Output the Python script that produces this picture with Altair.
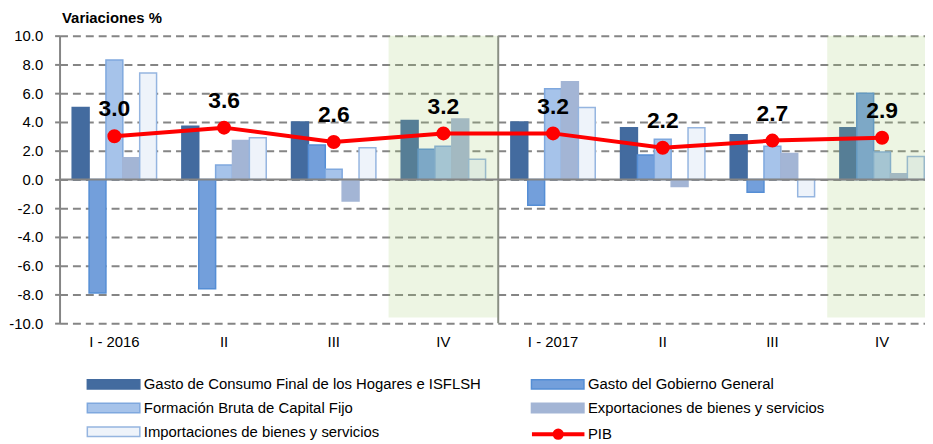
import altair as alt
import pandas as pd

# ---------------- data ----------------
quarters = ["I - 2016", "II", "III", "IV", "I - 2017", "II", "III", "IV"]
series = [
    "Gasto de Consumo Final de los Hogares e ISFLSH",
    "Gasto del Gobierno General",
    "Formación Bruta de Capital Fijo",
    "Exportaciones de bienes y servicios",
    "Importaciones de bienes y servicios",
]
consumo = [5.0, 3.7, 4.0, 4.1, 4.0, 3.6, 3.1, 3.6]
gobierno = [-7.9, -7.6, 2.4, 2.1, -1.8, 1.7, -0.9, 6.0]
fbkf = [8.3, 1.0, 0.7, 2.3, 6.3, 2.8, 2.3, 1.9]
exportaciones = [1.5, 2.7, -1.5, 4.2, 6.8, -0.5, 1.8, 0.4]
importaciones = [7.4, 2.9, 2.2, 1.4, 5.0, 3.6, -1.2, 1.6]
pib = [3.0, 3.6, 2.6, 3.2, 3.2, 2.2, 2.7, 2.9]
pib_name = "PIB"
shaded_quarters = [3, 7]
separator_quarter = 4
y_ticks = [-10, -8, -6, -4, -2, 0, 2, 4, 6, 8, 10]

# ---------------- styles ----------------
fills = ["#436B9F", "#739FDB", "#A6C3EA", "#A3B5D5", "#EEF3FA"]
strokes = ["#436B9F", "#558ED5", "#7FA8DE", "#A3B5D5", "#95B5E0"]
GRID = "#858585"
FONT = "Liberation Sans, Arial, sans-serif"
NARROW = "Liberation Sans Narrow, Arial Narrow, Liberation Sans, sans-serif"

keys = [f"{i}|{q}" for i, q in enumerate(quarters)]

rows = []
for name, vals in zip(series, [consumo, gobierno, fbkf, exportaciones, importaciones]):
    for k, v in zip(keys, vals):
        rows.append({"q": k, "serie": name, "valor": v})
bars_df = pd.DataFrame(rows)
pib_df = pd.DataFrame({"q": keys, "valor": pib, "lname": [pib_name] * len(keys)})
shade_df = pd.DataFrame({"q": [keys[i] for i in shaded_quarters], "valor": [10] * 2, "bottom": [-9.6] * 2})
sep_df = pd.DataFrame({"q": [keys[separator_quarter]], "valor": [10], "bottom": [-10]})
zero_df = pd.DataFrame({"valor": [0]})

# the last category runs past the right edge of the picture, as in the original
x_scale = alt.Scale(domain=keys, paddingInner=0, paddingOuter=0, range=[0, 885])
y_scale = alt.Scale(domain=[-10, 10], nice=False, zero=False)

x_axis = alt.Axis(labelExpr="split(datum.value, '|')[1]", ticks=False, domain=False,
                  labelAngle=0, title=None, labelPadding=12, labelFontSize=15,
                  labelColor="black", labelFont=FONT, grid=False)
y_axis = alt.Axis(values=y_ticks, labelOverlap=False, labelSeparation=0,
                  labelExpr="(datum.value < 0 ? '-' : '') + format(abs(datum.value), '.1f')",
                  grid=True, gridDash=[8, 5], gridColor=GRID, gridWidth=2,
                  domainColor=GRID, domainWidth=2, tickColor=GRID, tickSize=5, tickWidth=2,
                  labelPadding=12, labelFontSize=15, labelColor="black", labelFont=FONT,
                  title="Variaciones %", titleAngle=0, titleX=2, titleY=-13,
                  titleAlign="left", titleBaseline="alphabetic", titleFontSize=15,
                  titleFontWeight="bold", titleFont=FONT, titleColor="black")

X = alt.X("q:N", sort=keys, scale=x_scale, axis=x_axis)
Y = alt.Y("valor:Q", scale=y_scale, axis=y_axis)

rect_path = "M-2.5,-0.45H2.5V0.45H-2.5Z"
pib_path = ("M-2.5,0H2.5"
            "M-0.35,0A0.35,0.35 0 1,1 0.35,0A0.35,0.35 0 1,1 -0.35,0"
            "M-0.2,0A0.2,0.2 0 1,1 0.2,0A0.2,0.2 0 1,1 -0.2,0"
            "M-0.05,0A0.05,0.05 0 1,1 0.05,0A0.05,0.05 0 1,1 -0.05,0")

bar_legend = alt.Legend(
    title=None, orient="none", legendX=43, legendY=340, columns=2, direction="horizontal",
    symbolType=rect_path, symbolSize=449, symbolStrokeWidth=1.5,
    labelOffset=19, columnPadding=47, rowPadding=4, padding=0,
    labelFontSize=15, labelFont=FONT, labelColor="black", labelLimit=0,
)

bars = alt.Chart(bars_df).mark_bar(strokeWidth=1.5, opacity=1).encode(
    x=X,
    xOffset=alt.XOffset("serie:N", sort=series,
                        scale=alt.Scale(domain=series, paddingInner=0, paddingOuter=0.75)),
    y=Y,
    fill=alt.Fill("serie:N", sort=series, scale=alt.Scale(domain=series, range=fills), legend=bar_legend),
    stroke=alt.Stroke("serie:N", sort=series, scale=alt.Scale(domain=series, range=strokes), legend=bar_legend),
)

shade = alt.Chart(shade_df).mark_rect(color="#A5CD73", opacity=0.2).encode(
    x=X, y=Y, y2="bottom:Q",
)

sep = alt.Chart(sep_df).mark_rule(color="#8A8F84", strokeWidth=2).encode(
    x=alt.X("q:N", sort=keys, scale=x_scale, axis=x_axis, bandPosition=0),
    y=Y, y2="bottom:Q",
)

zero = alt.Chart(zero_df).mark_rule(color=GRID, strokeWidth=2).encode(y=Y)

line = alt.Chart(pib_df).mark_line(strokeWidth=4).encode(
    x=X, y=Y,
    color=alt.Color("lname:N", scale=alt.Scale(domain=[pib_name], range=["#FF0000"]),
                    legend=alt.Legend(title=None, orient="none", legendX=490, legendY=389,
                                      symbolType=pib_path, symbolSize=449, symbolStrokeWidth=4,
                                      labelOffset=17, padding=0, labelFontSize=15,
                                      labelFont=FONT, labelColor="black")),
)

points = alt.Chart(pib_df).mark_circle(size=200, color="#FF0000", opacity=1).encode(
    x=X, y=Y,
)

labels = alt.Chart(pib_df).mark_text(
    font=NARROW, fontSize=23, fontWeight="bold", dy=-20, baseline="alphabetic", color="black"
).encode(
    x=X, y=Y,
    text=alt.Text("valor:Q", format=".1f"),
)

chart = alt.layer(bars, shade, sep, zero, line, points, labels).properties(
    width=873, height=290,
    autosize=alt.AutoSizeParams(type="none"),
    padding={"left": 52, "top": 26, "right": 0, "bottom": 120},
).configure_view(stroke=None).configure_axisY(labelOverlap=False)

chart.save("out.html", embed_options={"renderer": "svg", "actions": False})
